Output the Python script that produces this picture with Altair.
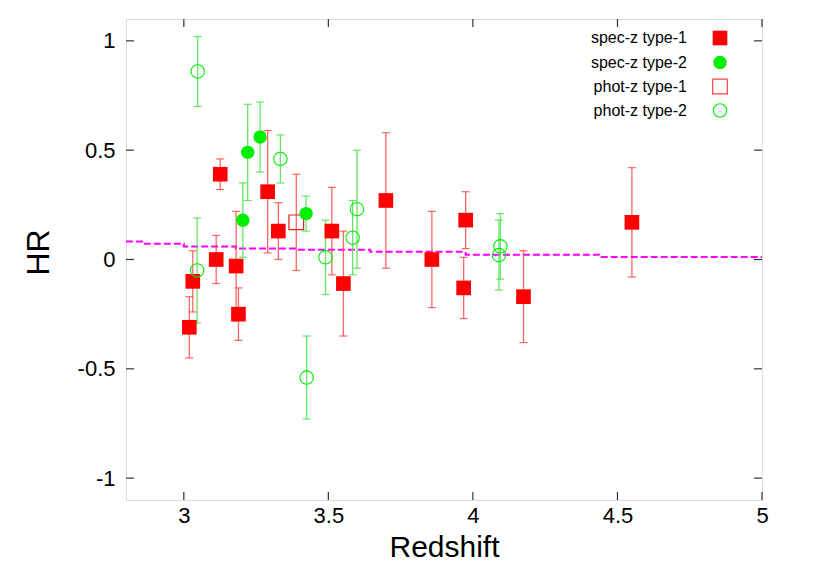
import altair as alt
import pandas as pd

# spec-z type-1 (red filled squares)
z_s1 = [3.019, 3.031, 3.112, 3.126, 3.181, 3.189, 3.29, 3.327, 3.512, 3.552, 3.699, 3.858, 3.968, 3.975, 4.175, 4.55]
hr_s1 = [-0.31, -0.10, 0.00, 0.39, -0.03, -0.25, 0.31, 0.13, 0.13, -0.11, 0.27, 0.00, -0.13, 0.18, -0.17, 0.17]
lo_s1 = [-0.45, -0.24, -0.11, 0.32, -0.28, -0.37, 0.03, 0.00, -0.07, -0.35, -0.04, -0.22, -0.27, 0.05, -0.38, -0.08]
hi_s1 = [-0.17, 0.04, 0.11, 0.46, 0.22, -0.13, 0.59, 0.26, 0.33, 0.13, 0.58, 0.22, 0.01, 0.31, 0.04, 0.42]

# spec-z type-2 (green filled circles)
z_s2 = [3.204, 3.221, 3.264, 3.423]
hr_s2 = [0.18, 0.49, 0.56, 0.21]
lo_s2 = [0.01, 0.27, 0.40, 0.13]
hi_s2 = [0.35, 0.71, 0.72, 0.29]

# phot-z type-1 (red open squares)
z_p1 = [3.389]
hr_p1 = [0.17]
lo_p1 = [-0.05]
hi_p1 = [0.39]

# phot-z type-2 (green open circles)
z_p2 = [3.046, 3.048, 3.334, 3.425, 3.49, 3.584, 3.599, 4.09, 4.095]
hr_p2 = [-0.05, 0.86, 0.46, -0.54, 0.01, 0.10, 0.23, 0.02, 0.06]
lo_p2 = [-0.29, 0.70, 0.35, -0.73, -0.16, -0.07, -0.04, -0.14, -0.09]
hi_p2 = [0.19, 1.02, 0.57, -0.35, 0.18, 0.27, 0.50, 0.18, 0.21]

# magenta dashed step curve
step_z = [2.8, 2.86, 3.0, 3.18, 3.39, 3.645, 3.975, 4.437, 5.0]
step_hr = [0.082, 0.072, 0.06, 0.05, 0.045, 0.035, 0.022, 0.012, 0.012]

x_ticks = [3, 3.5, 4, 4.5, 5]
y_ticks = [-1, -0.5, 0, 0.5, 1]
legend_labels = ["spec-z type-1", "spec-z type-2", "phot-z type-1", "phot-z type-2"]

W, H = 636, 481
FONT = "Liberation Sans"

xs = alt.Scale(domain=[2.8, 5], nice=False, zero=False)
ys = alt.Scale(domain=[-1.1, 1.1], nice=False, zero=False)


def df(z, hr, lo, hi):
    return pd.DataFrame({"z": z, "hr": hr, "lo": lo, "hi": hi})


def errbars(d, color):
    base = alt.Chart(d)
    rule = base.mark_rule(color=color, strokeWidth=1.3, opacity=0.8).encode(
        x=alt.X("z:Q", scale=xs), y=alt.Y("lo:Q", scale=ys), y2="hi:Q")
    cap_lo = base.mark_tick(color=color, orient="horizontal", size=8, thickness=1.2, opacity=0.8).encode(
        x=alt.X("z:Q", scale=xs), y=alt.Y("lo:Q", scale=ys))
    cap_hi = base.mark_tick(color=color, orient="horizontal", size=8, thickness=1.2, opacity=0.8).encode(
        x=alt.X("z:Q", scale=xs), y=alt.Y("hi:Q", scale=ys))
    return rule + cap_lo + cap_hi


d_s1 = df(z_s1, hr_s1, lo_s1, hi_s1)
d_s2 = df(z_s2, hr_s2, lo_s2, hi_s2)
d_p1 = df(z_p1, hr_p1, lo_p1, hi_p1)
d_p2 = df(z_p2, hr_p2, lo_p2, hi_p2)

RED = "#ff0000"
GREEN = "#00ee00"

step_df = pd.DataFrame({"z": step_z, "hr": step_hr})
step = alt.Chart(step_df).mark_line(
    color="#ff00ff", strokeWidth=2, strokeDash=[7, 3], interpolate="step-after"
).encode(
    x=alt.X("z:Q", scale=xs, axis=alt.Axis(
        values=x_ticks, title="Redshift", tickSize=0, domain=False, grid=False,
        labelExpr="datum.value + ''",
        labelFontSize=22, labelFont=FONT, labelColor="black", labelPadding=5,
        labelFlush=False, titleFontSize=30, titleFont=FONT, titleFontWeight="normal",
        titleColor="black", titleY=56, titleBaseline="alphabetic")),
    y=alt.Y("hr:Q", scale=ys, axis=alt.Axis(
        values=y_ticks, title="HR", tickSize=0, domain=False, grid=False,
        labelExpr="datum.value + ''",
        labelFontSize=22, labelFont=FONT, labelColor="black", labelPadding=11,
        labelFlush=False, titleFontSize=32, titleFont=FONT, titleFontWeight="normal",
        titleColor="black", titleX=-88, titleY=233, titleAngle=-90,
        titleBaseline="middle", titleAlign="center")),
)

# inward ticks on all four sides
xt = pd.DataFrame({"v": x_ticks})
yt = pd.DataFrame({"v": y_ticks})
tick_col = "#333333"
ticks = (
    alt.Chart(xt).mark_rule(color=tick_col, strokeWidth=1.2).encode(
        x=alt.X("v:Q", scale=xs), y=alt.value(H), y2=alt.value(H - 8))
    + alt.Chart(xt).mark_rule(color=tick_col, strokeWidth=1.2).encode(
        x=alt.X("v:Q", scale=xs), y=alt.value(0), y2=alt.value(8))
    + alt.Chart(yt).mark_rule(color=tick_col, strokeWidth=1.2).encode(
        y=alt.Y("v:Q", scale=ys), x=alt.value(0), x2=alt.value(8))
    + alt.Chart(yt).mark_rule(color=tick_col, strokeWidth=1.2).encode(
        y=alt.Y("v:Q", scale=ys), x=alt.value(W), x2=alt.value(W - 8))
)

pts_s1 = alt.Chart(d_s1).mark_point(shape="square", filled=True, size=215, color=RED, opacity=1).encode(
    x=alt.X("z:Q", scale=xs), y=alt.Y("hr:Q", scale=ys))
pts_s2 = alt.Chart(d_s2).mark_point(shape="circle", filled=True, size=180, color=GREEN, opacity=1).encode(
    x=alt.X("z:Q", scale=xs), y=alt.Y("hr:Q", scale=ys))
pts_p1 = alt.Chart(d_p1).mark_point(shape="square", filled=False, size=215, color="#e02020", strokeWidth=1.2, opacity=1).encode(
    x=alt.X("z:Q", scale=xs), y=alt.Y("hr:Q", scale=ys))
pts_p2 = alt.Chart(d_p2).mark_point(shape="circle", filled=False, size=180, color=GREEN, strokeWidth=1.1, opacity=1).encode(
    x=alt.X("z:Q", scale=xs), y=alt.Y("hr:Q", scale=ys))

# manual legend
leg_rows = [19, 43.5, 67.5, 91.5]
one = alt.Data(values=[{}])
legend_layers = []
marker_specs = [
    dict(shape="square", filled=True, size=215, color=RED),
    dict(shape="circle", filled=True, size=180, color=GREEN),
    dict(shape="square", filled=False, size=215, color="#ff4040", strokeWidth=1.2),
    dict(shape="circle", filled=False, size=180, color=GREEN, strokeWidth=1.1),
]
for lab, yy, spec in zip(legend_labels, leg_rows, marker_specs):
    legend_layers.append(
        alt.Chart(one).mark_text(align="right", baseline="middle", fontSize=16, font=FONT,
                                 color="black", text=lab).encode(
            x=alt.value(561), y=alt.value(yy)))
    legend_layers.append(
        alt.Chart(one).mark_point(opacity=1, **spec).encode(x=alt.value(594), y=alt.value(yy)))

chart = alt.layer(
    step, ticks,
    errbars(d_s1, "#ff4040"), errbars(d_p1, "#ff4040"),
    errbars(d_s2, "#40e040"), errbars(d_p2, "#40e040"),
    pts_s1, pts_p1, pts_s2, pts_p2,
    *legend_layers,
).properties(
    width=W, height=H,
    autosize=alt.AutoSizeParams(type="none"),
    padding={"left": 118, "top": 11, "right": 60, "bottom": 73},
).configure_view(stroke="#222222", strokeWidth=1.5).configure(background="white")

chart.save("out.html", embed_options={"renderer": "svg", "actions": False})
